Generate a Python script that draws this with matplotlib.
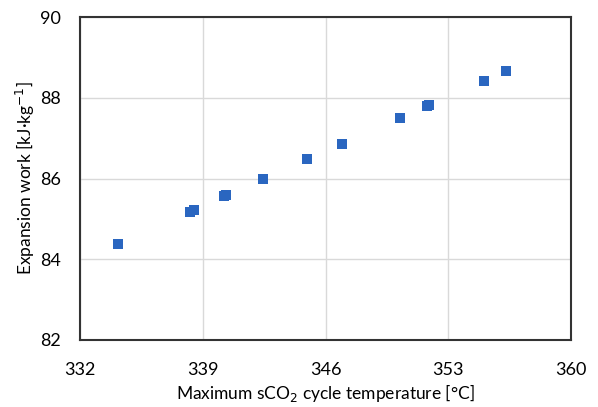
import matplotlib
matplotlib.use("Agg")
import matplotlib.pyplot as plt

temperature = [334.15, 338.27, 338.52, 340.2, 340.3, 342.41, 344.96, 346.96,
               350.24, 351.77, 351.92, 355.05, 356.29]
work = [84.37, 85.18, 85.22, 85.56, 85.58, 85.99, 86.48, 86.86,
        87.5, 87.8, 87.82, 88.42, 88.66]
xticks = [332, 339, 346, 353, 360]
yticks = [82, 84, 86, 88, 90]

plt.rcParams['font.family'] = ['Lato', 'DejaVu Sans']

fig = plt.figure(figsize=(5.98, 4.07), dpi=100)
ax = fig.add_axes([80/598, 1-340/407, 491/598, 323/407])
ax.scatter(temperature, work, marker='s', s=42, color='#2a66c0', zorder=3, linewidths=0)
ax.set_xlim(332, 360)
ax.set_ylim(82, 90)
ax.set_xticks(xticks)
ax.set_yticks(yticks)
ax.grid(True, color='#d9d9d9', linewidth=1)
ax.set_axisbelow(True)
ax.tick_params(length=0, labelsize=13, colors='#000000')
ax.tick_params(axis='x', pad=16)
ax.tick_params(axis='y', pad=14)
for s in ax.spines.values():
    s.set_color('#333333')
    s.set_linewidth(1.5)
ax.set_xlabel('Maximum sCO$_2$ cycle temperature [°C]', fontsize=12.5, labelpad=3)
ax.set_ylabel('Expansion work [kJ·kg$^{-1}$]', fontsize=12.5, labelpad=2)
fig.savefig('out.png', dpi=100)
